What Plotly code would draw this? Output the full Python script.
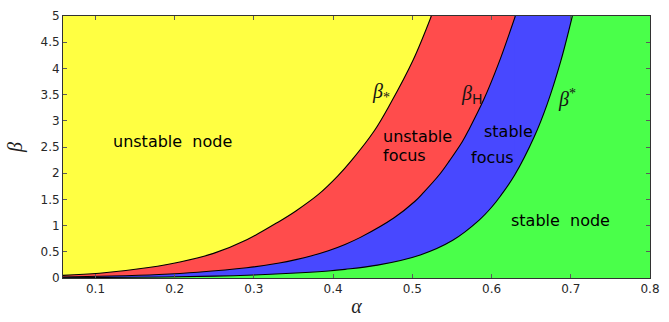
import plotly.graph_objects as go

# Stability boundaries in the (alpha, beta) parameter plane
alpha_lo = [0.059, 0.105, 0.167, 0.208, 0.249, 0.291, 0.332, 0.353, 0.381,
            0.406, 0.423, 0.452, 0.472, 0.501, 0.524]
beta_lo = [0.05, 0.09, 0.20, 0.31, 0.47, 0.73, 1.08, 1.28, 1.59,
           1.95, 2.24, 2.81, 3.32, 4.16, 5.0]

alpha_h = [0.059, 0.12, 0.18, 0.229, 0.291, 0.332, 0.353, 0.373, 0.394,
           0.415, 0.435, 0.477, 0.503, 0.514, 0.534, 0.547, 0.563, 0.572,
           0.590, 0.609, 0.630]
beta_h = [0.02, 0.038, 0.068, 0.11, 0.195, 0.285, 0.35, 0.425, 0.52,
          0.64, 0.78, 1.15, 1.46, 1.63, 1.97, 2.24, 2.60, 2.85,
          3.40, 4.10, 5.0]

alpha_up = [0.059, 0.15, 0.25, 0.30, 0.353, 0.394, 0.415, 0.456, 0.510,
            0.551, 0.584, 0.600, 0.611, 0.629, 0.654, 0.670, 0.687, 0.702]
beta_up = [0.006, 0.014, 0.035, 0.058, 0.095, 0.135, 0.165, 0.245, 0.44,
           0.72, 1.10, 1.35, 1.56, 1.96, 2.70, 3.31, 4.12, 5.0]

x_ticks = [0.1, 0.2, 0.3, 0.4, 0.5, 0.6, 0.7, 0.8]
y_ticks = [0, 0.5, 1, 1.5, 2, 2.5, 3, 3.5, 4, 4.5, 5]
x_range = [0.059, 0.8]
y_range = [0, 5]

YELLOW = "rgb(255,255,66)"
RED = "rgb(255,76,76)"
BLUE = "rgb(72,72,255)"
GREEN = "rgb(74,255,74)"

fig = go.Figure()

# Each region lies to the right of its boundary: the area under the curve
# plus the full-height strip beyond the point where the curve leaves the top
# (the strip starts a hair early so no seam shows between the two pieces).
for xs, ys, col in [(alpha_lo, beta_lo, RED),
                    (alpha_h, beta_h, BLUE),
                    (alpha_up, beta_up, GREEN)]:
    fig.add_trace(go.Scatter(
        x=xs, y=ys, mode="lines", fill="tozeroy", fillcolor=col,
        line=dict(width=0, color=col, shape="spline"),
        hoverinfo="skip", showlegend=False))
    x0 = xs[-1] - 0.0012
    fig.add_trace(go.Scatter(
        x=[x0, x_range[1] + 0.01, x_range[1] + 0.01, x0],
        y=[y_range[0], y_range[0], y_range[1] + 0.1, y_range[1] + 0.1],
        mode="lines", fill="toself", fillcolor=col,
        line=dict(width=0, color=col), hoverinfo="skip", showlegend=False))

# Boundary curves
for xs, ys in [(alpha_lo, beta_lo), (alpha_h, beta_h), (alpha_up, beta_up)]:
    fig.add_trace(go.Scatter(
        x=xs, y=ys, mode="lines",
        line=dict(color="black", width=1.1, shape="spline"),
        hoverinfo="skip", showlegend=False))

txt = dict(family="DejaVu Sans, Verdana, sans-serif", size=16, color="black")
beta_font = dict(family="Liberation Serif, Times New Roman, serif", size=20,
                 color="rgb(20,20,20)")
SANS = "font-family:'DejaVu Sans',sans-serif"

notes = [
    (0.1977, 2.61, "unstable  node", txt, "center"),
    (0.461, 2.70, "unstable", txt, "left"),
    (0.461, 2.34, "focus", txt, "left"),
    (0.6215, 2.79, "stable", txt, "center"),
    (0.601, 2.30, "focus", txt, "center"),
    (0.687, 1.10, "stable  node", txt, "center"),
    (0.460, 3.54, "<i>β</i><sub>*</sub>", beta_font, "center"),
    (0.575, 3.50, f"<i>β</i><sub><span style=\"{SANS}\">H</span></sub>",
     beta_font, "center"),
    (0.695, 3.42, "<i>β</i><sup>*</sup>", beta_font, "center"),
]
for x, y, t, f, al in notes:
    fig.add_annotation(x=x, y=y, text=t, showarrow=False, font=f,
                       xanchor=al, yanchor="middle")

axis_common = dict(
    showgrid=False, zeroline=False, ticks="inside", ticklen=4,
    tickcolor="rgb(90,90,90)", mirror="ticks", showline=True,
    linecolor="rgb(50,50,50)", linewidth=1,
    tickfont=dict(family="DejaVu Sans, Verdana, sans-serif", size=12,
                  color="rgb(40,40,40)"),
)

title_font = dict(family="Liberation Serif, Times New Roman, serif", size=20,
                  color="rgb(30,30,30)")

fig.update_layout(
    width=669, height=322,
    margin=dict(l=63, r=9, t=14, b=36),
    paper_bgcolor="white", plot_bgcolor=YELLOW,
    xaxis=dict(range=x_range, tickvals=x_ticks,
               ticktext=[f"{v:g}" for v in x_ticks],
               title=dict(text="<i>α</i>", standoff=3, font=title_font),
               **axis_common),
    yaxis=dict(range=y_range, tickvals=y_ticks,
               ticktext=[f"{v:g}" for v in y_ticks],
               title=dict(text="<i>β</i>", standoff=12, font=title_font),
               **axis_common),
)

fig.write_html("out.html")
